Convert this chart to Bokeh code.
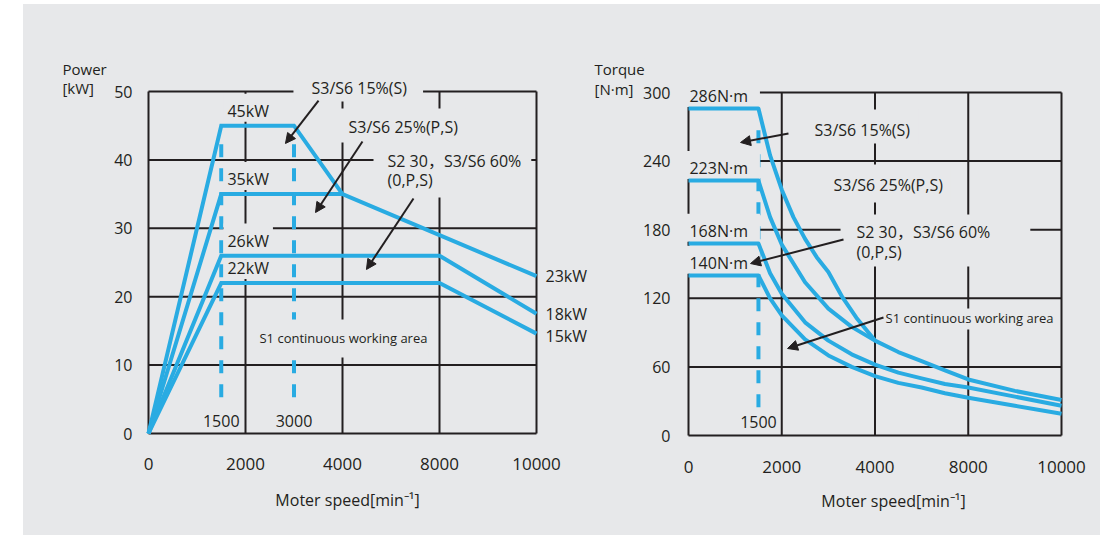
import numpy as np
from bokeh.plotting import figure
from bokeh.models import Range1d, FixedTicker, Label, Arrow, NormalHead, Spacer
from bokeh.layouts import row, column
from bokeh.embed import file_html
from bokeh.resources import INLINE

# ---------------- data ----------------
x_breaks = [0, 2000, 4000, 8000, 10000]
x_tick_labels = ["0", "2000", "4000", "8000", "10000"]
power_ticks = [0, 10, 20, 30, 40, 50]
torque_ticks = [0, 60, 120, 180, 240, 300]

# power curves (rpm, kW)
p45_rpm = [0, 1500, 3000, 4000, 8000, 10000]
p45_kw = [0, 45, 45, 35, 29, 23]
p35_rpm = [0, 1500, 4000]
p35_kw = [0, 35, 35]
p26_rpm = [0, 1500, 8000, 10000]
p26_kw = [0, 26, 26, 17.5]
p22_rpm = [0, 1500, 8000, 10000]
p22_kw = [0, 22, 22, 14.6]
power_labels = ["45kW", "35kW", "26kW", "22kW"]
power_levels = [45, 35, 26, 22]
power_end_labels = ["23kW", "18kW", "15kW"]
power_end_values = [23, 17.5, 14.2]
power_marks_rpm = [1500, 3000]

# torque curves (rpm, N·m)
t286_rpm = [0, 1500, 1750, 2000, 2250, 2500, 2750, 3000, 3300, 3600, 4000, 5000, 6000, 7000, 8000, 9000, 10000]
t286_nm = [286, 286, 245, 215, 191, 172, 156, 143, 121, 103, 83, 73, 65, 57, 49, 39, 31]
t223_rpm = [0, 1500, 1750, 2000, 2500, 3000, 3500, 4000]
t223_nm = [223, 223, 191, 167, 134, 111, 95, 83]
t168_rpm = [0, 1500, 1750, 2000, 2500, 3000, 3500, 4000, 5000, 6000, 7000, 8000, 9000, 10000]
t168_nm = [168, 168, 142, 124, 99, 83, 71, 62, 55, 50, 45, 42, 34, 26]
t140_rpm = [0, 1500, 1750, 2000, 2500, 3000, 3500, 4000, 5000, 6000, 7000, 8000, 9000, 10000]
t140_nm = [140, 140, 120, 105, 84, 70, 60, 52, 46, 42, 37, 33, 26, 19]
torque_labels = ["286N·m", "223N·m", "168N·m", "140N·m"]
torque_levels = [286, 223, 168, 140]
torque_marks_rpm = [1500]

# ---------------- style ----------------
BG = "#e7e8ea"
BLUE = "#29abe2"
INK = "#231f20"
FONT = "Open Sans"
FONT_CJK = "'Open Sans', 'Noto Sans CJK SC', sans-serif"
TOP = 4      # page y where the figures start
H = 531


def to_idx(rpm):
    return np.interp(np.asarray(rpm, dtype=float), x_breaks, np.arange(len(x_breaks)))


def make_fig(width, y_ticks, x0_px, x_unit_px, y0_px, y_unit_px,
             tick_standoff_y, tick_standoff_x, label_standoff, label_bound):
    # x0_px / y0_px: canvas pixel of the data origin; the whole canvas is the plot frame
    xr = Range1d(-x0_px / x_unit_px, (width - x0_px) / x_unit_px)
    yr = Range1d(-(H - y0_px) / y_unit_px, y0_px / y_unit_px)
    p = figure(width=width, height=H, x_range=xr, y_range=yr,
               output_backend="svg", toolbar_location=None, min_border=0)
    p.background_fill_color = BG
    p.border_fill_color = BG
    p.outline_line_color = None
    p.xgrid.visible = False
    p.ygrid.visible = False
    p.xaxis.ticker = FixedTicker(ticks=list(range(len(x_breaks))))
    p.xaxis.major_label_overrides = {i: t for i, t in enumerate(x_tick_labels)}
    p.yaxis.ticker = FixedTicker(ticks=y_ticks)
    p.xaxis.fixed_location = 0
    p.yaxis.fixed_location = 0
    p.xaxis.bounds = (0, label_bound)
    p.yaxis.bounds = (0, y_ticks[-1])
    for ax in (p.xaxis, p.yaxis):
        ax.axis_line_color = None
        ax.major_tick_line_color = None
        ax.minor_tick_line_color = None
        ax.major_tick_out = 0
        ax.major_tick_in = 0
        ax.major_label_text_font = FONT
        ax.major_label_text_color = INK
    p.yaxis.major_label_text_font_size = "16px"
    p.xaxis.major_label_text_font_size = "17px"
    p.yaxis.major_label_standoff = tick_standoff_y
    p.xaxis.major_label_standoff = tick_standoff_x
    p.xaxis.axis_label = "Moter speed[min⁻¹]"
    p.xaxis.axis_label_text_font = FONT
    p.xaxis.axis_label_text_font_size = "16px"
    p.xaxis.axis_label_text_font_style = "normal"
    p.xaxis.axis_label_text_color = INK
    p.xaxis.axis_label_standoff = label_standoff
    # grid / frame lines
    n = len(x_breaks) - 1
    ymax = y_ticks[-1]
    p.segment(x0=[0] * len(y_ticks), y0=y_ticks, x1=[n] * len(y_ticks), y1=y_ticks,
              line_color=INK, line_width=2, level="underlay")
    p.segment(x0=list(range(n + 1)), y0=[0] * (n + 1), x1=list(range(n + 1)), y1=[ymax] * (n + 1),
              line_color=INK, line_width=2, level="underlay")
    p.tags = [x_unit_px, y_unit_px]
    return p


def lab(p, x, y, text, size="16px", align="left", pad=(5, 5, 5, 0), box=True, font=FONT):
    """x, y: where the text itself sits (left edge or centre, vertical middle).
    The anchor is shifted so that the padded box does not move the text."""
    xu, yu = p.tags
    l, r, t, b = pad
    dx = l if align == "left" else (l - r) / 2.0
    ax = x - dx / xu
    ay = y + (t - b) / 2.0 / yu
    p.add_layout(Label(x=ax, y=ay, text=text, text_font=font, text_font_size=size,
                       text_color=INK, text_align=align, text_baseline="middle",
                       background_fill_color=BG if box else None,
                       padding=dict(left=l, right=r, top=t, bottom=b)))


def arrow(p, xs, ys, xe, ye):
    p.add_layout(Arrow(end=NormalHead(size=10, fill_color=INK, line_color=INK, line_width=1),
                       x_start=xs, y_start=ys, x_end=xe, y_end=ye,
                       line_color=INK, line_width=2, level="overlay"))


# ---------------- power chart ----------------
p1 = make_fig(569, power_ticks, 125, 97.0, 433 - TOP, 6.84, 16, 24, 16, 4.1)
for xs, ys in ((p45_rpm, p45_kw), (p35_rpm, p35_kw), (p26_rpm, p26_kw), (p22_rpm, p22_kw)):
    p1.line(to_idx(xs), ys, line_color=BLUE, line_width=4, line_join="miter", level="overlay")
for r in power_marks_rpm:
    xi = float(to_idx([r])[0])
    p1.line([xi, xi], [42.3, 4.1], line_color=BLUE, line_width=4, line_dash="13 11")
    lab(p1, xi, 1.9, str(r), align="center", pad=(2, 2, 2, 2))

lab(p1, -0.887, 53.36, "Power", size="15px", pad=(0, 0, 0, 0))
lab(p1, -0.887, 50.44, "[kW]", size="15px", pad=(0, 0, 0, 0))
for t, v in zip(power_labels, power_levels):
    lab(p1, 0.814, v + 2.2, t, pad=(4, 4, 6, 0))
for t, v in zip(power_end_labels, power_end_values):
    lab(p1, 4.093, v, t, pad=(0, 0, 0, 0))
lab(p1, 1.680, 50.58, "S3/S6 15%(S)", pad=(18, 16, 3, 3))
lab(p1, 2.062, 44.74, "S3/S6 25%(P,S)", pad=(8, 8, 8, 4))
lab(p1, 2.464, 39.91, "S2 30，S3/S6 60%", pad=(14, 10, 8, 26), font=FONT_CJK)
lab(p1, 2.464, 36.99, "(0,P,S)", pad=(0, 0, 0, 0), box=False)
lab(p1, 1.144, 13.89, "S1 continuous working area", size="13px", pad=(8, 1, 10, 10))
arrow(p1, 1.753, 48.68, 1.412, 42.40)
arrow(p1, 2.206, 42.69, 1.722, 32.31)
arrow(p1, 2.732, 34.36, 2.247, 23.98)

# ---------------- torque chart ----------------
p2 = make_fig(508, torque_ticks, 96, 93.25, 435 - TOP, 1.1433, 18, 25, 14, 4.4)
for xs, ys in ((t286_rpm, t286_nm), (t223_rpm, t223_nm), (t168_rpm, t168_nm), (t140_rpm, t140_nm)):
    p2.line(to_idx(xs), ys, line_color=BLUE, line_width=4, line_join="round", level="overlay")
for r in torque_marks_rpm:
    xi = float(to_idx([r])[0])
    p2.line([xi, xi], [267, 24.5], line_color=BLUE, line_width=4, line_dash="13 11")
    lab(p2, xi, 12.2, str(r), align="center", pad=(2, 2, 2, 2))

lab(p2, -1.008, 321.0, "Torque", size="15px", pad=(0, 0, 0, 0))
lab(p2, -1.008, 303.5, "[N·m]", size="15px", pad=(0, 0, 0, 0))
for t, v in zip(torque_labels, torque_levels):
    lab(p2, 0.01, v + 11, t, pad=(6, 12, 6, 0))
lab(p2, 1.351, 266.8, "S3/S6 15%(S)", pad=(8, 8, 10, 2))
lab(p2, 1.555, 218.7, "S3/S6 25%(P,S)", pad=(8, 8, 10, 6))
lab(p2, 1.802, 178.4, "S2 30，S3/S6 60%", pad=(16, 40, 6, 24), font=FONT_CJK)
lab(p2, 1.802, 160.9, "(0,P,S)", pad=(0, 0, 0, 0), box=False)
lab(p2, 2.113, 103.2, "S1 continuous working area", size="13px", pad=(3, 0, 0, 3))
arrow(p2, 1.072, 264.1, 0.558, 256.3)
arrow(p2, 1.662, 171.4, 0.665, 150.4)
arrow(p2, 2.091, 103.2, 1.062, 76.1)

charts = row(Spacer(width=23, height=H, styles={"background-color": "white"}), p1, p2,
             styles={"background-color": BG})
layout = column(Spacer(width=1100, height=TOP), charts)
open("out.html", "w").write(file_html(layout, INLINE))
